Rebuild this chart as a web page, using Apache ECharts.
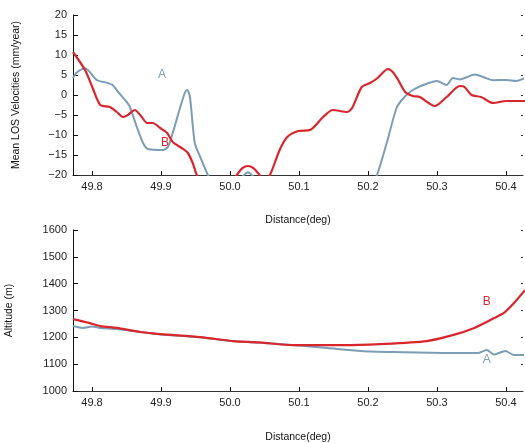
<!DOCTYPE html>
<html>
<head>
<meta charset="utf-8">
<script src="https://cdn.jsdelivr.net/npm/echarts@6/dist/echarts.min.js"></script>
<style>html,body{margin:0;padding:0;background:#fff}#c{width:525px;height:443px}</style>
</head>
<body>
<div id="c"></div>
<script>
// X tick labels (deg)
const xTicks = [49.8, 49.9, 50.0, 50.1, 50.2, 50.3, 50.4];
// Top panel: Mean LOS velocities (mm/year), [distance, value]
const velA = [
  [49.7725,4.2],[49.778,5.6],[49.790,6.7],[49.807,3.75],[49.823,3.0],[49.830,2.5],[49.838,0.75],
  [49.848,-1.25],[49.855,-3],[49.865,-8],[49.874,-12],[49.881,-13.5],[49.903,-13.75],[49.910,-13],
  [49.917,-9.5],[49.928,-3],[49.935,0.75],[49.938,1.3],[49.942,-0.5],[49.949,-12],[49.957,-15.5],
  [49.968,-20],[49.98,-24],[50.00,-24],[50.015,-21],[50.026,-19.3],[50.037,-21],[50.05,-24],
  [50.10,-26],[50.15,-26],[50.20,-24],[50.213,-20],[50.228,-11.5],[50.242,-3],[50.254,-0.3],
  [50.265,1.25],[50.280,2.5],[50.300,3.5],[50.314,2.5],[50.323,4.25],[50.333,3.9],[50.355,5.1],
  [50.367,4.5],[50.381,3.7],[50.401,3.75],[50.415,3.5],[50.4275,4.25]
];
const velB = [
  [49.7725,10.75],[49.790,6.25],[49.801,1.75],[49.812,-2.5],[49.826,-3],[49.836,-4.25],[49.845,-5.5],
  [49.852,-5],[49.862,-3.75],[49.870,-5],[49.880,-7],[49.888,-7],[49.899,-8.25],[49.909,-9.5],
  [49.917,-11.75],[49.930,-13.25],[49.939,-14.5],[49.946,-17],[49.952,-20],[49.97,-25],[49.99,-25],
  [50.003,-22],[50.010,-20],[50.018,-18.3],[50.026,-17.75],[50.034,-18.3],[50.043,-20],[50.050,-21.5],
  [50.058,-20],[50.072,-13.75],[50.083,-10.5],[50.099,-9],[50.116,-8.75],[50.135,-5.5],[50.149,-3.75],
  [50.170,-4.25],[50.177,-3.25],[50.191,2],[50.203,3],[50.214,4.25],[50.229,6.5],[50.236,5.75],
  [50.243,4],[50.254,0.75],[50.265,-0.25],[50.275,-0.5],[50.297,-2.75],[50.314,-0.5],[50.333,2.25],
  [50.340,2.0],[50.350,0],[50.364,-0.5],[50.381,-2],[50.401,-1.5],[50.4275,-1.5]
];
// Bottom panel: Altitude (m)
const altA = [
  [49.7725,1242],[49.787,1235],[49.800,1240],[49.812,1235],[49.836,1231],[49.870,1220],[49.899,1211],
  [49.957,1200],[50.004,1186],[50.043,1180],[50.091,1171],[50.141,1160],[50.190,1149],[50.238,1145],
  [50.310,1142],[50.360,1142],[50.372,1153],[50.383,1136],[50.399,1149],[50.412,1134],[50.4275,1134]
];
const altB = [
  [49.7725,1268],[49.797,1253],[49.812,1242],[49.836,1235],[49.870,1220],[49.899,1212],[49.957,1201],
  [50.004,1186],[50.043,1181],[50.091,1171],[50.163,1171],[50.218,1175],[50.285,1186],[50.324,1209],
  [50.354,1235],[50.383,1272],[50.397,1291],[50.413,1332],[50.4275,1376]
];
// Curve labels
const labelsTop = [{name:'A', coord:[49.9015,5]}, {name:'B', coord:[49.906,-12]}];
const labelsBottom = [{name:'B', coord:[50.372,1332]}, {name:'A', coord:[50.372,1116]}];

const colA = '#7b9db6', colB = '#d8262c';
const font = 'Liberation Sans, Arial, sans-serif';
const XMIN = 49.7725, XMAX = 50.4247;

function xAxis(gi){
  return {
    gridIndex: gi, type:'value', min: XMIN, max: XMAX,
    name:'Distance(deg)', nameLocation:'middle', nameGap: gi===0?40:41,
    nameTextStyle:{color:'#111', fontSize:10.5, fontFamily:font},
    axisLine:{show:true, onZero:false, lineStyle:{color:'#333', width:1}},
    axisTick:{show:true, inside:true, length:4, customValues:xTicks, lineStyle:{color:'#111'}},
    axisLabel:{customValues:xTicks, formatter:v=>v.toFixed(1), color:'#222', fontSize:11, fontFamily:font, margin:6},
    splitLine:{show:false}
  };
}
function yAxis(gi, min, max, interval, name, gap, fmt){
  return {
    gridIndex: gi, type:'value', min, max, interval, position:'left',
    name, nameLocation:'middle', nameGap:gap,
    nameTextStyle:{color:'#111', fontSize:10.5, fontFamily:font},
    axisLine:{show:true, onZero:false, lineStyle:{color:'#111', width:1}},
    axisTick:{show:true, inside:true, length:5, lineStyle:{color:'#111'}},
    axisLabel:{color:'#222', fontSize:11, fontFamily:font, margin:6, formatter:fmt},
    splitLine:{show:false}
  };
}
function yRight(gi, min, max, interval){
  return {
    gridIndex: gi, type:'value', min, max, interval, position:'right',
    axisLine:{show:false, onZero:false}, axisTick:{show:true, inside:true, length:2, lineStyle:{color:'#333'}},
    axisLabel:{show:false}, splitLine:{show:false}
  };
}
function lbl(arr, colorFn){
  return arr.map(l=>({name:l.name, coord:l.coord, symbol:'circle', symbolSize:0,
    label:{show:true, formatter:l.name, color:colorFn(l.name), fontSize:12, fontFamily:font, position:'inside'}}));
}
const minusFmt = v => String(v).replace('-', '\u2212');
const cf = n => n==='A'?colA:colB;

const chart = echarts.init(document.getElementById('c'));
chart.setOption({
  animation:false,
  grid:[
    {left:73, right:2, top:15, bottom:268, containLabel:false, outerBoundsMode:'none'},
    {left:73, right:2, top:230, bottom:52, containLabel:false, outerBoundsMode:'none'}
  ],
  xAxis:[xAxis(0), xAxis(1)],
  yAxis:[
    yAxis(0,-20,20,5,'Mean LOS Velocities (mm/year)',51,minusFmt),
    yAxis(1,1000,1600,100,'Altitude (m)',58,v=>String(v)),
    yRight(0,-20,20,5),
    yRight(1,1000,1600,100)
  ],
  series:[
    {type:'line', xAxisIndex:0, yAxisIndex:0, data:velA, smooth:0.25, symbol:'none', clip:true,
     lineStyle:{color:colA, width:2}, z:2,
     markPoint:{silent:true, data:lbl(labelsTop.filter(l=>l.name==='A'), cf)}},
    {type:'line', xAxisIndex:0, yAxisIndex:0, data:velB, smooth:0.25, symbol:'none', clip:true,
     lineStyle:{color:colB, width:2.2}, z:3,
     markPoint:{silent:true, data:lbl(labelsTop.filter(l=>l.name==='B'), cf)}},
    {type:'line', xAxisIndex:1, yAxisIndex:1, data:altA, smooth:0.25, symbol:'none', clip:true,
     lineStyle:{color:colA, width:2}, z:2,
     markPoint:{silent:true, data:lbl(labelsBottom.filter(l=>l.name==='A'), cf)}},
    {type:'line', xAxisIndex:1, yAxisIndex:1, data:altB, smooth:0.25, symbol:'none', clip:true,
     lineStyle:{color:colB, width:2.2}, z:3,
     markPoint:{silent:true, data:lbl(labelsBottom.filter(l=>l.name==='B'), cf)}}
  ]
});
</script>
</body>
</html>
